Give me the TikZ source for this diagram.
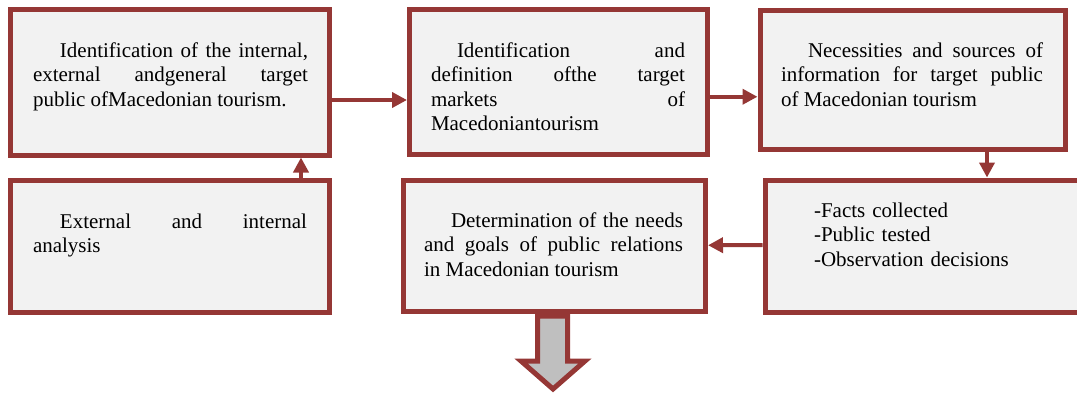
\documentclass[tikz,border=0pt]{standalone}
\usepackage{fontspec}
\setmainfont{Liberation Serif}
\usepackage{tikz}
\usetikzlibrary{arrows.meta}
\usetikzlibrary{positioning}
\usepackage{xcolor}
\definecolor{cadre}{HTML}{953735}
\definecolor{fond}{HTML}{F2F2F2}
\definecolor{fleche}{HTML}{BFBFBF}

\begin{document}
\begin{tikzpicture}[x=1pt,y=-1pt,
    boite/.style={draw=cadre, fill=fond, line width=5pt, inner sep=0pt},
    texte/.style={anchor=north west, inner sep=0pt, outer sep=0pt, align=justify,
        font={\fontsize{21}{24.5}\selectfont\tolerance=10000\hyphenpenalty=10000}},
    lien/.style={draw=cadre, line width=4pt, -{Triangle[length=15pt,width=15pt]}},
    grosse/.style={draw=cadre, fill=fleche, line width=5pt, line join=miter}]
\useasboundingbox (0,0) rectangle (1077,394);
% cadres
\node[boite, minimum width=319pt, minimum height=145.5pt] (b1) at (170,82.25) {};
\node[boite, minimum width=298pt, minimum height=145pt] (b2) at (558.5,82) {};
\node[boite, minimum width=305pt, minimum height=139.5pt] (b3) at (912.5,79.75) {};
\node[boite, minimum width=319pt, minimum height=132pt] (b4) at (170,246.5) {};
\node[boite, minimum width=302.5pt, minimum height=130.5pt] (b5) at (554.25,245.75) {};
\node[boite, minimum width=314.5pt, minimum height=132.5pt] (b6) at (922.25,246.25) {};
% textes
\node[texte, text width=275pt] (t1) at (33,39.85)
    {\strut\hspace*{27pt}Identification of the internal,\linebreak external andgeneral target\linebreak public ofMacedonian tourism.};
\node[texte, text width=254pt] (t2) at (431,39.85)
    {\strut\hspace*{26pt}Identification and\linebreak definition ofthe target\linebreak markets of\linebreak Macedoniantourism};
\node[texte, text width=262pt] (t3) at (781,39.85)
    {\strut\hspace*{27pt}Necessities and sources of\linebreak information for target public\linebreak of Macedonian tourism};
\node[texte, text width=274pt] (t4) at (33,210.85)
    {\strut\hspace*{27pt}External and internal\linebreak analysis};
\node[texte, text width=259pt] (t5) at (424,209.85)
    {\strut\hspace*{27pt}Determination of the needs\linebreak and goals of public relations\linebreak in Macedonian tourism};
\node[texte, text width=240pt, align=left] (t6) at (814,199.85)
    {\strut-Facts collected\\-Public tested\\-Observation decisions};
% fleches
\draw[lien] ([yshift=-17.75pt]b1.east) -- ([yshift=-18pt]b2.west);
\draw[lien] ([yshift=-14.75pt]b2.east) -- ([yshift=-17pt]b3.west);
\draw[lien] ([xshift=74.5pt]b3.south) -- ([xshift=64.75pt]b6.north);
\draw[lien] ([yshift=1.25pt]b6.west) -- ([yshift=0.5pt]b5.east);
\draw[lien] ([xshift=131pt]b4.north) -- ([xshift=131pt]b1.south);
% grosse fleche
\draw[grosse] (537.5,316) -- (537.5,361) -- (521,361) -- (553,389)
    -- (585,361) -- (567.5,361) -- (567.5,316) -- cycle;
\end{tikzpicture}
\end{document}
